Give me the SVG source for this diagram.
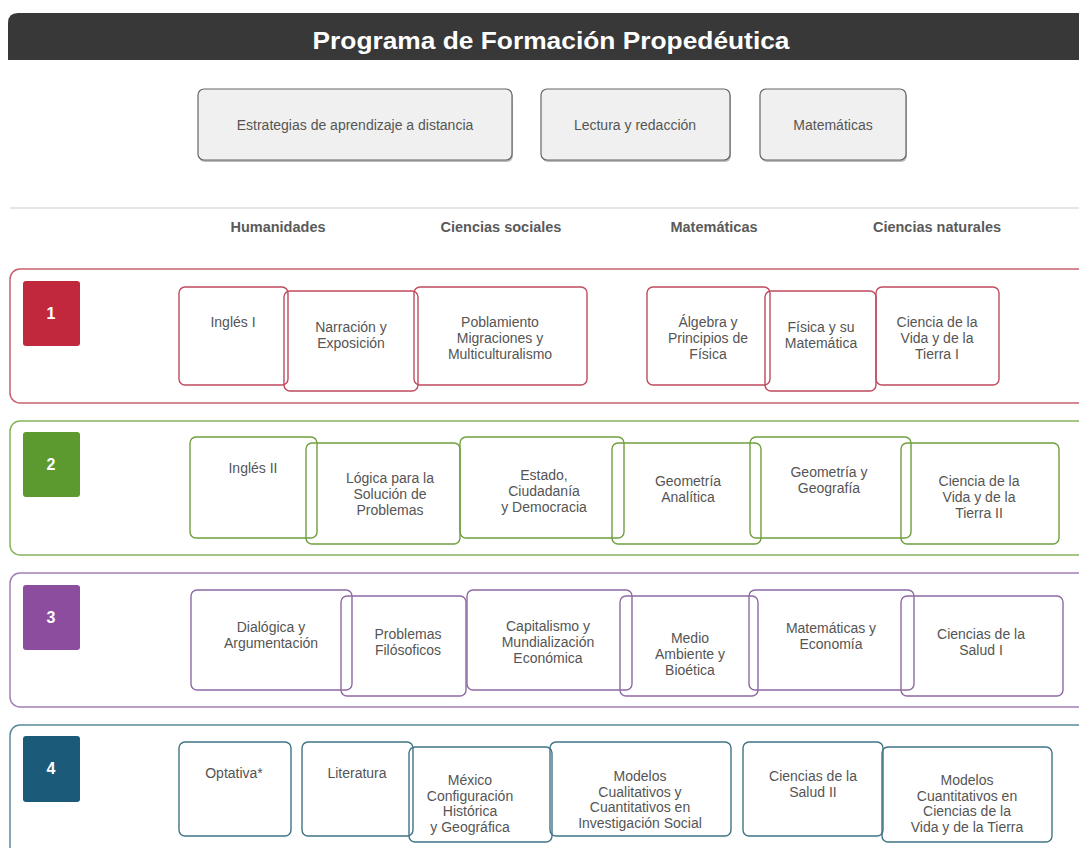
<svg xmlns="http://www.w3.org/2000/svg" width="1079" height="848" viewBox="0 0 1079 848">
<style>
.t{font-family:"Liberation Sans",Arial,sans-serif;font-size:14px;fill:#555;text-anchor:middle}
.h{font-family:"Liberation Sans",Arial,sans-serif;font-size:14.5px;font-weight:bold;fill:#5a5a5a;text-anchor:middle}
.num{font-family:"Liberation Sans",Arial,sans-serif;font-size:16px;font-weight:bold;fill:#fff;text-anchor:middle}
.top{fill:#f0f0f0;stroke:#666;stroke-width:1.2}
.r1{fill:none;stroke:#c04a5e;stroke-width:1.4}
.r2{fill:none;stroke:#6f9f3f;stroke-width:1.4}
.r3{fill:none;stroke:#8e6aa3;stroke-width:1.4}
.r4{fill:none;stroke:#3f7486;stroke-width:1.4}
.o1{fill:none;stroke:#c8606f;stroke-width:1.5}
.o2{fill:none;stroke:#86b25c;stroke-width:1.5}
.o3{fill:none;stroke:#a27fb5;stroke-width:1.5}
.o4{fill:none;stroke:#5a8a98;stroke-width:1.5}
</style>
<rect width="1079" height="848" fill="#fff"/>
<g id="header">
<path d="M8,60 V23 Q8,13 18,13 H1079 V60 Z" fill="#383838"/>
<text x="551" y="49" font-family="'Liberation Sans',Arial,sans-serif" font-size="24" font-weight="bold" fill="#fff" text-anchor="middle" textLength="477" lengthAdjust="spacingAndGlyphs">Programa de Formación Propedéutica</text>
</g>
<g id="top-estrategias">
<rect x="199" y="91" width="314" height="71" rx="6" fill="#bbb"/>
<rect class="top" x="198" y="89" width="314" height="71" rx="6"/>
<text class="t" x="355" y="130">Estrategias de aprendizaje a distancia</text>
</g>
<g id="top-lectura">
<rect x="542" y="91" width="189" height="71" rx="6" fill="#bbb"/>
<rect class="top" x="541" y="89" width="189" height="71" rx="6"/>
<text class="t" x="635" y="130">Lectura y redacción</text>
</g>
<g id="top-matematicas">
<rect x="761" y="91" width="146" height="71" rx="6" fill="#bbb"/>
<rect class="top" x="760" y="89" width="146" height="71" rx="6"/>
<text class="t" x="833" y="130">Matemáticas</text>
</g>
<line x1="10" y1="208" x2="1079" y2="208" stroke="#ddd" stroke-width="1.5"/>
<g id="column-headers">
<text class="h" x="278" y="232">Humanidades</text>
<text class="h" x="501" y="232">Ciencias sociales</text>
<text class="h" x="714" y="232">Matemáticas</text>
<text class="h" x="937" y="232">Ciencias naturales</text>
</g>
<g id="connectors"></g>

<!-- Row 1 -->
<g id="row1">
<rect class="o1" x="10" y="269" width="1090" height="134" rx="10"/>
<rect x="23" y="281" width="57" height="65" rx="3" fill="#c1283d"/>
<text class="num" x="51" y="319">1</text>
</g>
<g id="n-ingles1"><rect class="r1" x="179" y="287" width="109" height="98" rx="6"/><text class="t" x="233" y="327">Inglés I</text></g>
<g id="n-narracion"><rect class="r1" x="284" y="291" width="134" height="100" rx="6"/><text class="t" x="351" y="332">Narración y<tspan x="351" dy="16">Exposición</tspan></text></g>
<g id="n-poblamiento"><rect class="r1" x="414" y="287" width="173" height="98" rx="6"/><text class="t" x="500" y="327">Poblamiento<tspan x="500" dy="16">Migraciones y</tspan><tspan x="500" dy="16">Multiculturalismo</tspan></text></g>
<g id="n-algebra"><rect class="r1" x="647" y="287" width="123" height="98" rx="6"/><text class="t" x="708" y="327">Álgebra y<tspan x="708" dy="16">Principios de</tspan><tspan x="708" dy="16">Física</tspan></text></g>
<g id="n-fisica"><rect class="r1" x="765" y="291" width="111" height="100" rx="6"/><text class="t" x="821" y="332">Física y su<tspan x="821" dy="16">Matemática</tspan></text></g>
<g id="n-cvt1"><rect class="r1" x="876" y="287" width="123" height="98" rx="6"/><text class="t" x="937" y="327">Ciencia de la<tspan x="937" dy="16">Vida y de la</tspan><tspan x="937" dy="16">Tierra I</tspan></text></g>

<!-- Row 2 -->
<g id="row2">
<rect class="o2" x="10" y="421" width="1090" height="134" rx="10"/>
<rect x="23" y="432" width="57" height="65" rx="3" fill="#5c9a2f"/>
<text class="num" x="51" y="470">2</text>
</g>
<g id="n-ingles2"><rect class="r2" x="190" y="437" width="127" height="101" rx="6"/><text class="t" x="253" y="473">Inglés II</text></g>
<g id="n-logica"><rect class="r2" x="306" y="443" width="154" height="101" rx="6"/><text class="t" x="390" y="483">Lógica para la<tspan x="390" dy="16">Solución de</tspan><tspan x="390" dy="16">Problemas</tspan></text></g>
<g id="n-estado"><rect class="r2" x="460" y="437" width="164" height="101" rx="6"/><text class="t" x="544" y="480">Estado,<tspan x="544" dy="16">Ciudadanía</tspan><tspan x="544" dy="16">y Democracia</tspan></text></g>
<g id="n-geoanalitica"><rect class="r2" x="612" y="443" width="149" height="101" rx="6"/><text class="t" x="688" y="486">Geometría<tspan x="688" dy="16">Analítica</tspan></text></g>
<g id="n-geogeografia"><rect class="r2" x="750" y="437" width="161" height="101" rx="6"/><text class="t" x="829" y="477">Geometría y<tspan x="829" dy="16">Geografía</tspan></text></g>
<g id="n-cvt2"><rect class="r2" x="901" y="443" width="158" height="101" rx="6"/><text class="t" x="979" y="486">Ciencia de la<tspan x="979" dy="16">Vida y de la</tspan><tspan x="979" dy="16">Tierra II</tspan></text></g>

<!-- Row 3 -->
<g id="row3">
<rect class="o3" x="10" y="573" width="1090" height="134" rx="10"/>
<rect x="23" y="585" width="57" height="65" rx="3" fill="#8c4d9f"/>
<text class="num" x="51" y="623">3</text>
</g>
<g id="n-dialogica"><rect class="r3" x="191" y="590" width="161" height="100" rx="6"/><text class="t" x="271" y="632">Dialógica y<tspan x="271" dy="16">Argumentación</tspan></text></g>
<g id="n-problemas"><rect class="r3" x="341" y="596" width="125" height="100" rx="6"/><text class="t" x="408" y="639">Problemas<tspan x="408" dy="16">Filósoficos</tspan></text></g>
<g id="n-capitalismo"><rect class="r3" x="467" y="590" width="165" height="100" rx="6"/><text class="t" x="548" y="631">Capitalismo y<tspan x="548" dy="16">Mundialización</tspan><tspan x="548" dy="16">Económica</tspan></text></g>
<g id="n-medio"><rect class="r3" x="620" y="596" width="138" height="100" rx="6"/><text class="t" x="690" y="643">Medio<tspan x="690" dy="16">Ambiente y</tspan><tspan x="690" dy="16">Bioética</tspan></text></g>
<g id="n-mateco"><rect class="r3" x="749" y="590" width="165" height="100" rx="6"/><text class="t" x="831" y="633">Matemáticas y<tspan x="831" dy="16">Economía</tspan></text></g>
<g id="n-salud1"><rect class="r3" x="901" y="596" width="162" height="100" rx="6"/><text class="t" x="981" y="639">Ciencias de la<tspan x="981" dy="16">Salud I</tspan></text></g>

<!-- Row 4 -->
<g id="row4">
<rect class="o4" x="10" y="725" width="1090" height="140" rx="10"/>
<rect x="23" y="736" width="57" height="66" rx="3" fill="#1b5b79"/>
<text class="num" x="51" y="774">4</text>
</g>
<g id="n-optativa"><rect class="r4" x="179" y="742" width="112" height="94" rx="6"/><text class="t" x="234" y="778">Optativa*</text></g>
<g id="n-literatura"><rect class="r4" x="302" y="742" width="111" height="94" rx="6"/><text class="t" x="357" y="778">Literatura</text></g>
<g id="n-mexico"><rect class="r4" x="409" y="747" width="143" height="95" rx="6"/><text class="t" x="470" y="785">México<tspan x="470" dy="15.5">Configuración</tspan><tspan x="470" dy="15.5">Histórica</tspan><tspan x="470" dy="15.5">y Geográfica</tspan></text></g>
<g id="n-modelos-social"><rect class="r4" x="550" y="742" width="181" height="94" rx="6"/><text class="t" x="640" y="781">Modelos<tspan x="640" dy="15.5">Cualitativos y</tspan><tspan x="640" dy="15.5">Cuantitativos en</tspan><tspan x="640" dy="15.5">Investigación Social</tspan></text></g>
<g id="n-salud2"><rect class="r4" x="743" y="742" width="140" height="94" rx="6"/><text class="t" x="813" y="781">Ciencias de la<tspan x="813" dy="15.5">Salud II</tspan></text></g>
<g id="n-modelos-vida"><rect class="r4" x="882" y="747" width="170" height="95" rx="6"/><text class="t" x="967" y="785">Modelos<tspan x="967" dy="15.5">Cuantitativos en</tspan><tspan x="967" dy="15.5">Ciencias de la</tspan><tspan x="967" dy="15.5">Vida y de la Tierra</tspan></text></g>
</svg>
